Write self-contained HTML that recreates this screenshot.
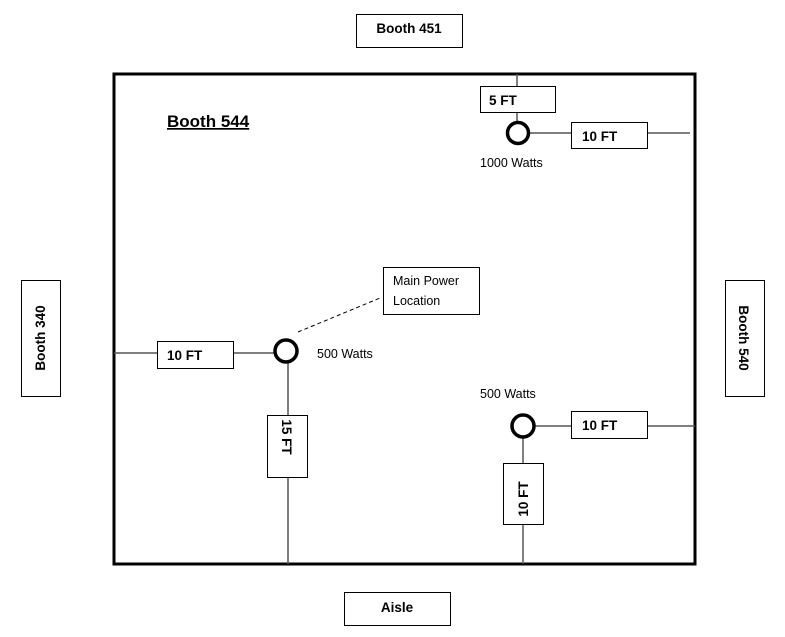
<!DOCTYPE html>
<html><head><meta charset="utf-8"><style>
html,body{margin:0;padding:0;background:#fff;width:785px;height:637px;overflow:hidden}
text{font-family:"Liberation Sans",sans-serif;fill:#000}
.b{font-weight:bold;font-size:13.5px}
.n{font-size:12.5px}
</style></head><body>
<svg width="785" height="637" viewBox="0 0 785 637" xmlns="http://www.w3.org/2000/svg">
<g fill="#fff" stroke="#000" stroke-width="1">
<rect x="356.5" y="14.5" width="106" height="33"/>
<rect x="344.5" y="592.5" width="106" height="33"/>
<rect x="21.5" y="280.5" width="39" height="116"/>
<rect x="725.5" y="280.5" width="39" height="116"/>
</g>
<text class="b" x="409" y="33" text-anchor="middle">Booth 451</text>
<text class="b" x="397" y="612" text-anchor="middle">Aisle</text>
<text class="b" transform="translate(45,338) rotate(-90)" text-anchor="middle">Booth  340</text>
<text class="b" transform="translate(739,338) rotate(90)" text-anchor="middle">Booth  540</text>
<rect x="114" y="74" width="581" height="490" fill="none" stroke="#000" stroke-width="3"/>
<text x="167" y="127" font-size="17" font-weight="bold" text-decoration="underline">Booth 544</text>
<g stroke="#555" stroke-width="1.5">
<line x1="517" y1="74" x2="517" y2="123"/>
<line x1="528" y1="133" x2="690" y2="133"/>
<line x1="114" y1="353" x2="276" y2="353"/>
<line x1="288" y1="363" x2="288" y2="564"/>
<line x1="533" y1="426" x2="695" y2="426"/>
<line x1="523" y1="436" x2="523" y2="564"/>
</g>
<g fill="#fff" stroke="#000" stroke-width="1">
<rect x="480.5" y="86.5" width="75" height="26"/>
<rect x="571.5" y="122.5" width="76" height="26"/>
<rect x="157.5" y="341.5" width="76" height="27"/>
<rect x="267.5" y="415.5" width="40" height="62"/>
<rect x="571.5" y="411.5" width="76" height="27"/>
<rect x="503.5" y="463.5" width="40" height="61"/>
<rect x="383.5" y="267.5" width="96" height="47"/>
</g>
<g fill="#fff" stroke="#000" stroke-width="3.5">
<circle cx="518" cy="133" r="10.5"/>
<circle cx="286" cy="351" r="11"/>
<circle cx="523" cy="426" r="11"/>
</g>
<line x1="298" y1="332" x2="380" y2="298" stroke="#000" stroke-width="1" stroke-dasharray="4,3"/>
<text class="b" x="489" y="105">5 FT</text>
<text class="b" x="582" y="141">10 FT</text>
<text class="b" x="167" y="360">10 FT</text>
<text class="b" x="582" y="430">10 FT</text>
<text class="b" transform="translate(282,437) rotate(90)" text-anchor="middle">15 FT</text>
<text class="b" transform="translate(528,499) rotate(-90)" text-anchor="middle">10 FT</text>
<text class="n" x="480" y="167">1000 Watts</text>
<text class="n" x="317" y="358">500 Watts</text>
<text class="n" x="480" y="398">500 Watts</text>
<text class="n" x="393" y="285">Main Power</text>
<text class="n" x="393" y="305">Location</text>
</svg>
</body></html>
